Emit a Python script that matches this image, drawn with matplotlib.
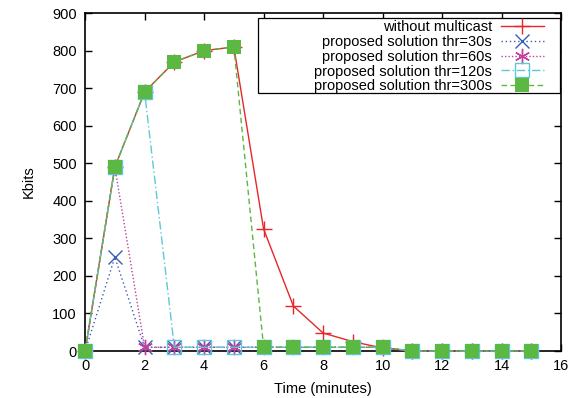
import numpy as np
import matplotlib
matplotlib.use("Agg")
import matplotlib.pyplot as plt
from matplotlib.patches import Rectangle

plt.rcParams["font.family"] = ["Liberation Sans", "DejaVu Sans"]
plt.rcParams["font.size"] = 10.5

# data
minutes = list(range(16))
without_mc = [0, 490, 690, 770, 800, 810, 325, 120, 48, 25, 8, 0, 0, 0, 0, 0]
thr30 = [0, 250, 10, 10, 10, 10, 10, 10, 10, 10, 10, 0, 0, 0, 0, 0]
thr60 = [0, 490, 10, 10, 10, 10, 10, 10, 10, 10, 10, 0, 0, 0, 0, 0]
thr120 = [0, 490, 690, 10, 10, 10, 10, 10, 10, 10, 10, 0, 0, 0, 0, 0]
thr300 = [0, 490, 690, 770, 800, 810, 10, 10, 10, 10, 10, 0, 0, 0, 0, 0]

fig = plt.figure(figsize=(5.79, 3.98), dpi=100)
ax = fig.add_axes([0.147, 0.118, 0.822, 0.849])

ax.plot(minutes, without_mc, color="#e8262a", lw=1, ls="-", marker="+",
        ms=11, mew=1, label="without multicast", clip_on=False, zorder=3)
ax.plot(minutes, thr30, color="#3a5cb4", lw=1, ls=(0, (1, 2)), marker="x",
        ms=10, mew=1, label="proposed solution thr=30s", clip_on=False, zorder=3)
ax.plot(minutes, thr60, color="#c0409c", lw=1, ls=(0, (1, 1.5)), marker=(6, 2, 0),
        ms=11, mew=1, label="proposed solution thr=60s", clip_on=False, zorder=3)
ax.plot(minutes, thr120, color="#5ec8d8", lw=1, ls=(0, (6, 2, 1, 2)), marker="s",
        ms=10, mew=1, mfc="none", label="proposed solution thr=120s",
        clip_on=False, zorder=3)
ax.plot(minutes, thr300, color="#5ab843", lw=1, ls=(0, (4, 2.5)), marker="s",
        ms=10, mew=0, mfc="#5ab843", label="proposed solution thr=300s",
        clip_on=False, zorder=4)

ax.set_xlim(0, 16)
ax.set_ylim(0, 900)
ax.set_xticks(np.arange(0, 17, 2))
ax.set_yticks(np.arange(0, 901, 100))
ax.tick_params(direction="in", top=True, right=True, length=5, width=1, pad=6)
for s in ax.spines.values():
    s.set_linewidth(1.2)

ax.set_xlabel("Time (minutes)", labelpad=6)
ax.set_ylabel("Kbits", labelpad=12)

# gnuplot-style key: wide box, text right-aligned next to the samples
box = Rectangle((0.363, 0.763), 0.635, 0.222, transform=ax.transAxes,
                facecolor="white", edgecolor="black", lw=0.9, zorder=5)
ax.add_patch(box)
leg = ax.legend(loc="upper right", bbox_to_anchor=(0.968, 0.983), markerfirst=False,
                frameon=False, borderpad=0.1, labelspacing=0.05, handlelength=3.0,
                handletextpad=0.6, borderaxespad=0.0)
leg.set_zorder(6)
for t in leg.get_texts():
    t.set_ha("right")
leg._legend_box.align = "right"

fig.savefig("out.png", dpi=100)
